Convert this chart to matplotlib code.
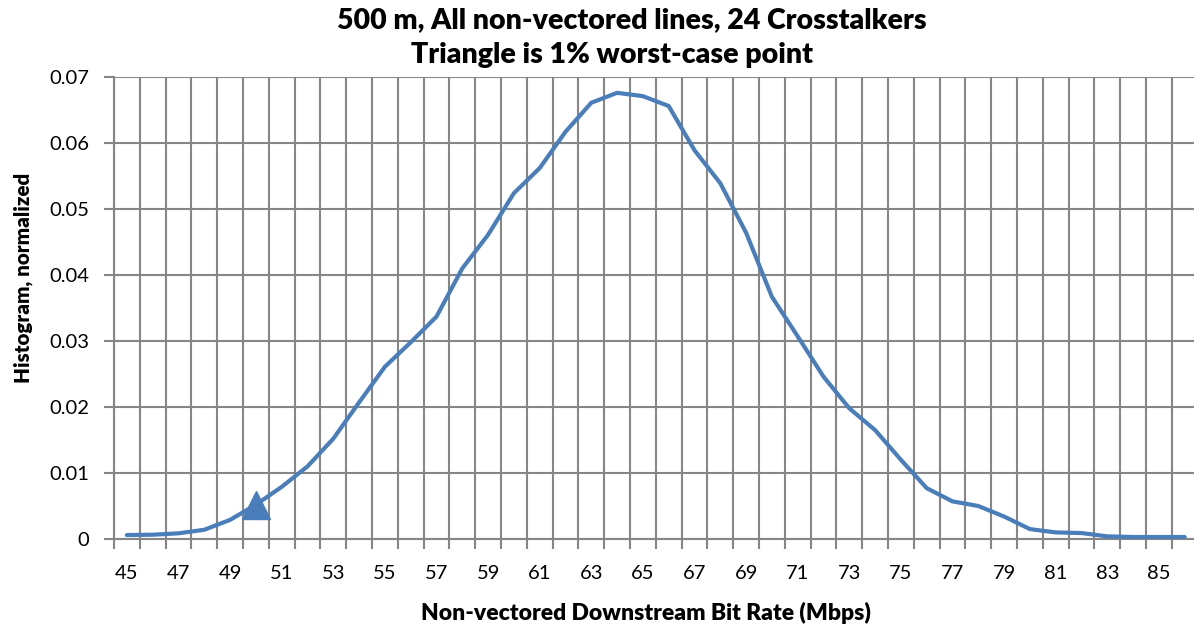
import matplotlib
matplotlib.use("Agg")
import matplotlib.pyplot as plt
import numpy as np

plt.rcParams['font.family'] = ['Lato', 'DejaVu Sans']

# Data
bit_rate = list(range(45, 87))
histogram = [0.0006, 0.00065, 0.00086, 0.0014, 0.0029, 0.0052, 0.0079, 0.011, 0.0152, 0.0207,
             0.0261, 0.0298, 0.0337, 0.041, 0.0461, 0.0524, 0.0562, 0.0617, 0.0661, 0.0676,
             0.0671, 0.0656, 0.0589, 0.0539, 0.0464, 0.0367, 0.0307, 0.0246, 0.0198, 0.0165,
             0.012, 0.0077, 0.0057, 0.005, 0.0034, 0.0015, 0.001, 0.0009, 0.0004, 0.0003,
             0.0003, 0.0003]
worst_x = [50]
worst_y = [0.0052]
xtick_labels = [str(v) for v in range(45, 86, 2)]

title_line1 = "500 m, All non-vectored lines, 24 Crosstalkers"
title_line2 = "Triangle is 1% worst-case point"
xlabel = "Non-vectored Downstream Bit Rate (Mbps)"
ylabel = "Histogram, normalized"

line_color = "#4a7ebb"
grid_color = "#868686"

fig = plt.figure(figsize=(11.94, 6.30), dpi=100)
ax = fig.add_axes([114/1194, 1-539/630, 1-114/1194, (539-77)/630])

ax.plot(bit_rate, histogram, color=line_color, lw=3.0, solid_capstyle='round',
        solid_joinstyle='round', zorder=3)
ax.plot(worst_x, worst_y, marker='^', color=line_color, ms=20, ls='none', zorder=4)

ax.set_xlim(44.5, 86.36)
ax.set_ylim(0, 0.07)

ax.set_xticks([int(t) for t in xtick_labels])
ax.set_xticklabels(xtick_labels)
ax.set_xticks(np.arange(44.5, 86.0, 1.0), minor=True)
ax.set_yticks(np.arange(0, 0.0701, 0.01))
ax.set_yticklabels(["0"] + ["%.2f" % v for v in np.arange(0.01, 0.0701, 0.01)])

ax.grid(True, which='minor', axis='x', color=grid_color, lw=1.5, zorder=1)
ax.grid(True, which='major', axis='y', color=grid_color, lw=1.5, zorder=1)
ax.grid(False, which='major', axis='x')

ax.tick_params(axis='x', which='minor', length=7, width=1.5, color=grid_color, direction='out')
ax.tick_params(axis='x', which='major', length=0, pad=19, labelsize=14.5)
ax.tick_params(axis='y', which='major', length=7, width=1.5, color=grid_color, direction='out',
               pad=11, labelsize=14.5)

for s in ['top', 'right']:
    ax.spines[s].set_visible(False)
for s in ['left', 'bottom']:
    ax.spines[s].set_color(grid_color)
    ax.spines[s].set_linewidth(1.5)

fig.text(646/1194, 1-613/630, xlabel, ha='center', va='center', fontsize=16.5, fontweight='heavy')
fig.text(23/1194, 1-278/630, ylabel, ha='center', va='center', rotation=90,
         fontsize=14.8, fontweight='heavy')
fig.text(632/1194, 1-20/630, title_line1, ha='center', va='center',
         fontsize=20.5, fontweight='heavy')
fig.text(612/1194, 1-55/630, title_line2, ha='center', va='center',
         fontsize=20.5, fontweight='heavy')

fig.savefig("out.png", dpi=100)
